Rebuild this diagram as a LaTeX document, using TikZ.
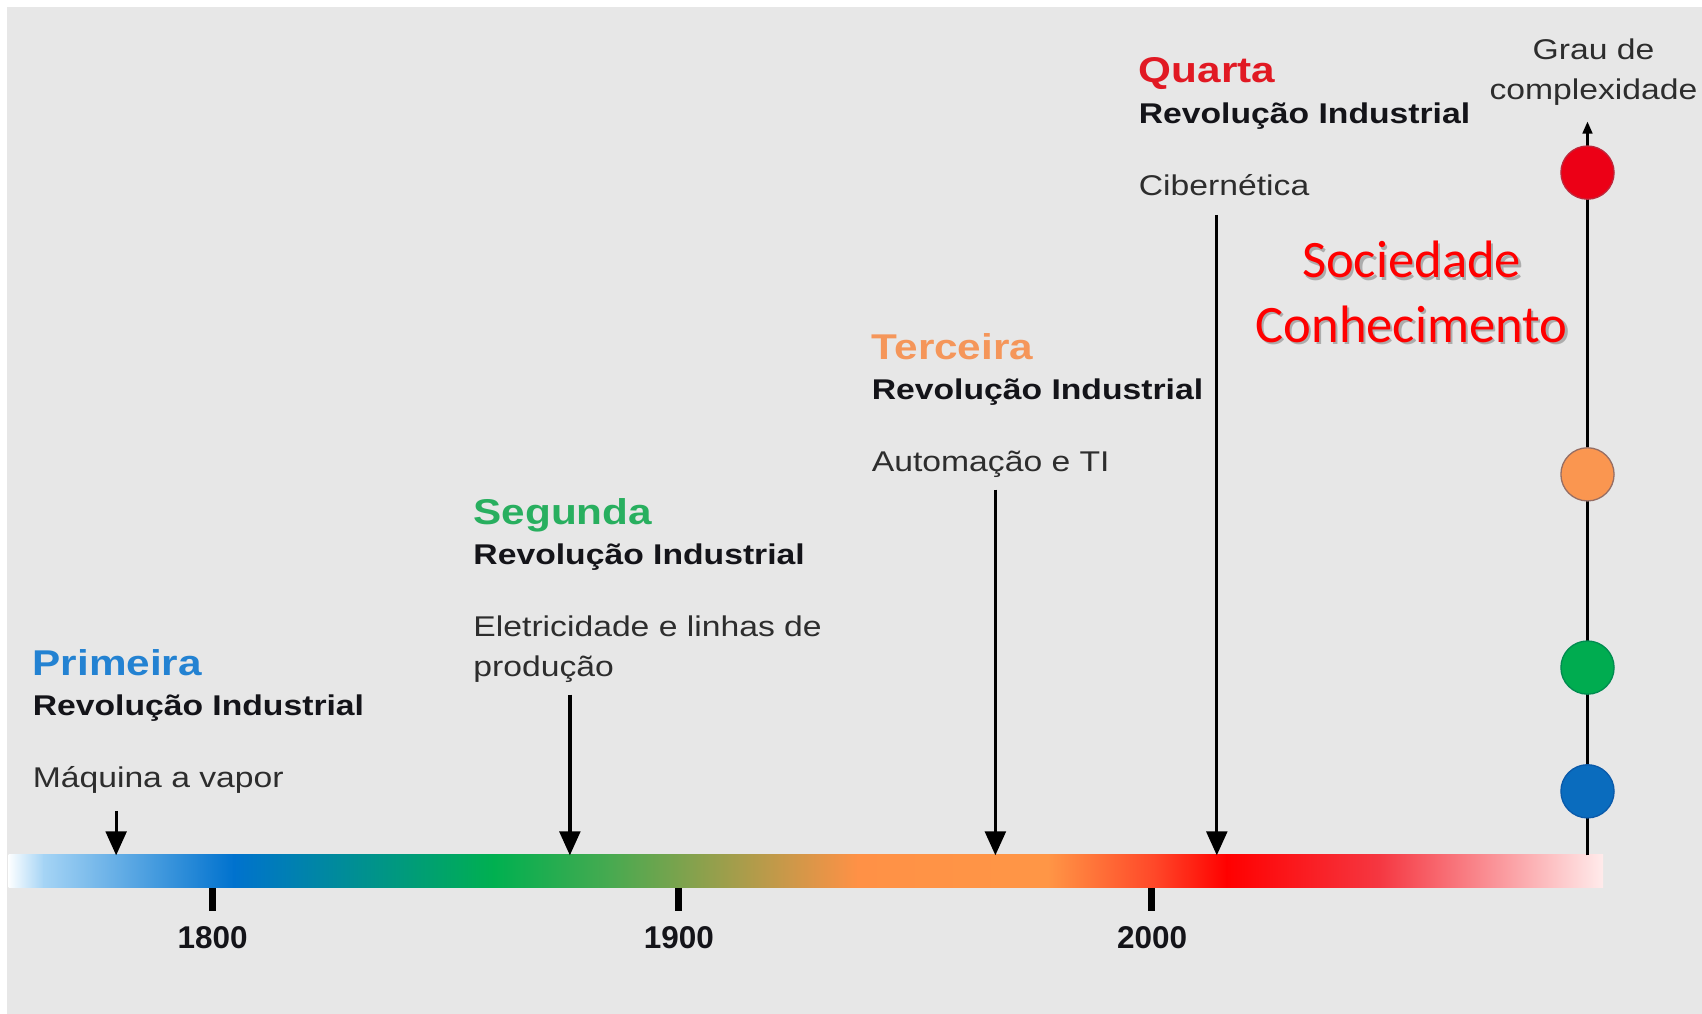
\documentclass[tikz,border=0pt]{standalone}
\usepackage{fontspec}
\setmainfont{Liberation Sans}[FakeStretch=1.18]
\newfontfamily\plainsans{Liberation Sans}
\newfontfamily\calib{Carlito}
\usetikzlibrary{arrows.meta}
\definecolor{paper}{RGB}{231,231,231}
\definecolor{priblue}{RGB}{35,130,210}
\definecolor{seggreen}{RGB}{40,175,95}
\definecolor{terorange}{RGB}{245,150,90}
\definecolor{quared}{RGB}{225,25,35}
\definecolor{revcol}{RGB}{20,20,25}
\definecolor{desccol}{RGB}{45,45,45}
\definecolor{socred}{RGB}{255,0,0}
\definecolor{gA}{RGB}{252,254,255}
\definecolor{gB}{RGB}{165,212,245}
\definecolor{gC}{RGB}{0,114,206}
\definecolor{gD}{RGB}{0,176,80}
\definecolor{gE}{RGB}{70,170,80}
\definecolor{gF}{RGB}{255,145,70}
\definecolor{gG}{RGB}{255,150,70}
\definecolor{gH}{RGB}{255,70,40}
\definecolor{gI}{RGB}{255,0,0}
\definecolor{gJ}{RGB}{245,55,65}
\definecolor{gK}{RGB}{255,235,235}
\begin{document}
\begin{tikzpicture}[x=1pt,y=-1pt,
  title/.style={anchor=base west, inner sep=0pt, font=\bfseries\fontsize{33}{38}\selectfont},
  revtext/.style={anchor=base west, inner sep=0pt, font=\bfseries\fontsize{26.3}{31}\selectfont, text=revcol},
  desc/.style={anchor=base west, inner sep=0pt, font=\fontsize{26.3}{31}\selectfont, text=desccol},
  axislabel/.style={anchor=base, inner sep=0pt, font=\fontsize{26.3}{31}\selectfont, text=desccol},
  year/.style={anchor=base, inner sep=0pt, font=\plainsans\bfseries\fontsize{29}{34}\selectfont, text=revcol},
  pointer/.style={line width=3pt, draw=black, -{Triangle[length=22pt,width=19pt]}},
  tickmark/.style={line width=6.4pt, draw=black},
  dot/.style={circle, minimum size=49pt, inner sep=0pt, line width=1.2pt},
  society/.style={anchor=base, inner sep=0pt, font=\calib\fontsize{48.5}{56}\selectfont},
]
% canvas
\useasboundingbox (0,0) rectangle (1568,934);
\fill[white] (0,0) rectangle (1568,934);
\fill[paper] (6.5,6.5) rectangle (1568,934);

% gradient timeline bar
\shade[left color=gA, right color=gB] (8,787) rectangle (40.5,818);
\shade[left color=gB, right color=gC] (40,787) rectangle (215.5,818);
\shade[left color=gC, right color=gD] (215,787) rectangle (455.5,818);
\shade[left color=gD, right color=gE] (455,787) rectangle (560.5,818);
\shade[left color=gE, right color=gF] (560,787) rectangle (790.5,818);
\shade[left color=gF, right color=gG] (790,787) rectangle (965.5,818);
\shade[left color=gG, right color=gH] (965,787) rectangle (1065.5,818);
\shade[left color=gH, right color=gI] (1065,787) rectangle (1130.5,818);
\shade[left color=gI, right color=gJ] (1130,787) rectangle (1270.5,818);
\shade[left color=gJ, right color=gK] (1270,787) rectangle (1477,818);

% ticks and years
\coordinate (t1a) at (195.5,818); \coordinate (t1b) at (195.5,839);
\coordinate (t2a) at (625,818);   \coordinate (t2b) at (625,839);
\coordinate (t3a) at (1061,818);  \coordinate (t3b) at (1061,839);
\draw[tickmark] (t1a) -- (t1b);
\draw[tickmark] (t2a) -- (t2b);
\draw[tickmark] (t3a) -- (t3b);
\node[year] (y1800) at (196,873.5) {1800};
\node[year] (y1900) at (625.5,873.5) {1900};
\node[year] (y2000) at (1061.5,873.5) {2000};

% Primeira
\node[title, text=priblue] (p1) at (30,622) {Primeira};
\node[revtext] (p2) at (30,659.5) {Revolução Industrial};
\node[desc] (p3) at (30,725.5) {Máquina a vapor};
% Segunda
\node[title, text=seggreen] (s1) at (436,483) {Segunda};
\node[revtext] (s2) at (436,520.5) {Revolução Industrial};
\node[desc] (s3) at (436,586.5) {Eletricidade e linhas de};
\node[desc] (s4) at (436,623.5) {produção};
% Terceira
\node[title, text=terorange] (r1) at (803,331) {Terceira};
\node[revtext] (r2) at (803,368.5) {Revolução Industrial};
\node[desc] (r3) at (803,434.5) {Automação e TI};
% Quarta
\node[title, text=quared] (q1) at (1049,76) {Quarta};
\node[revtext] (q2) at (1049,114) {Revolução Industrial};
\node[desc] (q3) at (1049,180) {Cibernética};

% pointers
\coordinate (a1s) at (107,747);  \coordinate (a1e) at (107,788);
\coordinate (a2s) at (525,640);  \coordinate (a2e) at (525,788);
\coordinate (a3s) at (917,451);  \coordinate (a3e) at (917,788);
\coordinate (a4s) at (1121,198); \coordinate (a4e) at (1121,788);
\draw[pointer] (a1s) -- (a1e);
\draw[pointer] (a2s) -- (a2e);
\draw[pointer] (a3s) -- (a3e);
\draw[pointer] (a4s) -- (a4e);

% Sociedade Conhecimento
\node[society, text=black!60, opacity=0.45] (soc1s) at (1302.5,258) {Sociedade};
\node[society, text=black!60, opacity=0.45] (soc2s) at (1302.5,317.7) {Conhecimento};
\node[society, text=socred] (soc1) at (1300.5,256) {Sociedade};
\node[society, text=socred] (soc2) at (1300.5,315.7) {Conhecimento};

% complexity axis
\coordinate (axb) at (1462.5,788);
\coordinate (axt) at (1462.5,112);
\draw[line width=2pt, -{Triangle[length=11pt,width=9pt]}] (axb) -- (axt);
\node[axislabel] (g1) at (1468,55) {Grau de};
\node[axislabel] (g2) at (1468,92) {complexidade};

\node[dot, fill={rgb,255:red,236;green,0;blue,22}, draw={rgb,255:red,190;green,40;blue,60}] (c4) at (1462.5,159) {};
\node[dot, fill={rgb,255:red,250;green,150;blue,80}, draw={rgb,255:red,150;green,110;blue,100}] (c3) at (1462.5,437) {};
\node[dot, fill={rgb,255:red,0;green,172;blue,80}, draw={rgb,255:red,0;green,140;blue,80}] (c2) at (1462.5,615) {};
\node[dot, fill={rgb,255:red,10;green,108;blue,190}, draw={rgb,255:red,10;green,90;blue,170}] (c1) at (1462.5,729) {};
\end{tikzpicture}
\end{document}
